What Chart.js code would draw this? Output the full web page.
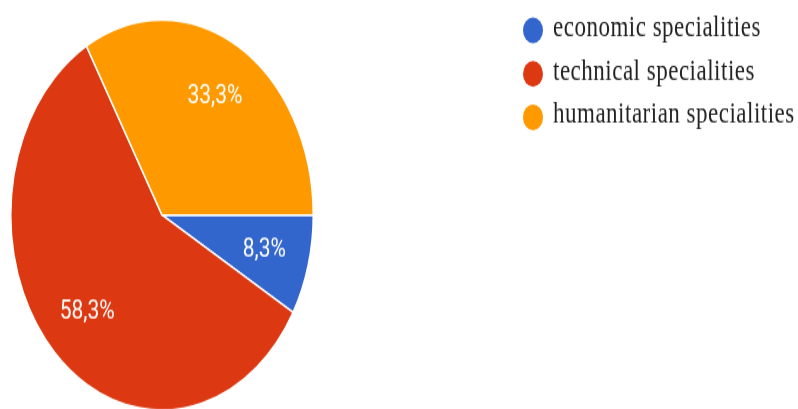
<!DOCTYPE html>
<html>
<head>
<meta charset="utf-8">
<script src="https://cdn.jsdelivr.net/npm/chart.js@4/dist/chart.umd.min.js"></script>
<style>
html { overflow: hidden; }
body { margin: 0; padding: 0; background: #fff; height: 409px; }
/* the source picture is squeezed sideways, so stretch the drawing vertically */
#wrap { width: 798px; height: 320px; transform: scaleY(1.29); transform-origin: 0 0; }
</style>
</head>
<body>
<div id="wrap"><canvas id="myChart" width="798" height="320"></canvas></div>
<script>
var labels = ['economic specialities', 'technical specialities', 'humanitarian specialities'];
var shares = [8.3, 58.3, 33.3];
var colors = ['#3366cc', '#dc3912', '#ff9900'];

// white % labels inside each slice
var sliceLabels = {
    id: 'sliceLabels',
    afterDatasetsDraw: function(chart) {
        var ctx = chart.ctx;
        var meta = chart.getDatasetMeta(0);
        ctx.save();
        ctx.fillStyle = '#ffffff';
        ctx.font = '21px Roboto';
        ctx.textAlign = 'center';
        ctx.textBaseline = 'middle';
        meta.data.forEach(function(arc, i) {
            var p = arc.getProps(['x', 'y', 'startAngle', 'endAngle', 'outerRadius'], true);
            var mid = (p.startAngle + p.endAngle) / 2;
            var r = p.outerRadius * 0.7;
            var txt = chart.data.datasets[0].data[i].toFixed(1).replace('.', ',') + '%';
            ctx.fillText(txt, p.x + Math.cos(mid) * r, p.y + Math.sin(mid) * r);
        });
        ctx.restore();
    }
};

// legend top right, round markers
var sideLegend = {
    id: 'sideLegend',
    afterDraw: function(chart) {
        var ctx = chart.ctx;
        var ds = chart.data.datasets[0];
        ctx.save();
        ctx.font = '23px "Liberation Serif"';
        ctx.letterSpacing = '0.5px';
        ctx.textAlign = 'left';
        ctx.textBaseline = 'alphabetic';
        chart.data.labels.forEach(function(lab, i) {
            var y = 23.5 + i * 33.7;
            ctx.fillStyle = ds.backgroundColor[i];
            ctx.beginPath();
            ctx.arc(533, y, 10, 0, Math.PI * 2);
            ctx.fill();
            ctx.fillStyle = '#222222';
            ctx.fillText(lab, 553, y + 4.5);
        });
        ctx.restore();
    }
};

var ctx = document.getElementById('myChart').getContext('2d');
var myChart = new Chart(ctx, {
    type: 'pie',
    data: {
        labels: labels,
        datasets: [{
            data: shares,
            backgroundColor: colors,
            borderColor: '#ffffff',
            borderWidth: 1.5,
            hoverOffset: 0
        }]
    },
    options: {
        responsive: false,
        animation: false,
        rotation: 90,
        layout: {
            padding: { left: 10, top: 14.7, right: 484, bottom: 1.3 }
        },
        plugins: {
            legend: { display: false },
            tooltip: { enabled: false }
        }
    },
    plugins: [sliceLabels, sideLegend]
});
</script>
</body>
</html>
